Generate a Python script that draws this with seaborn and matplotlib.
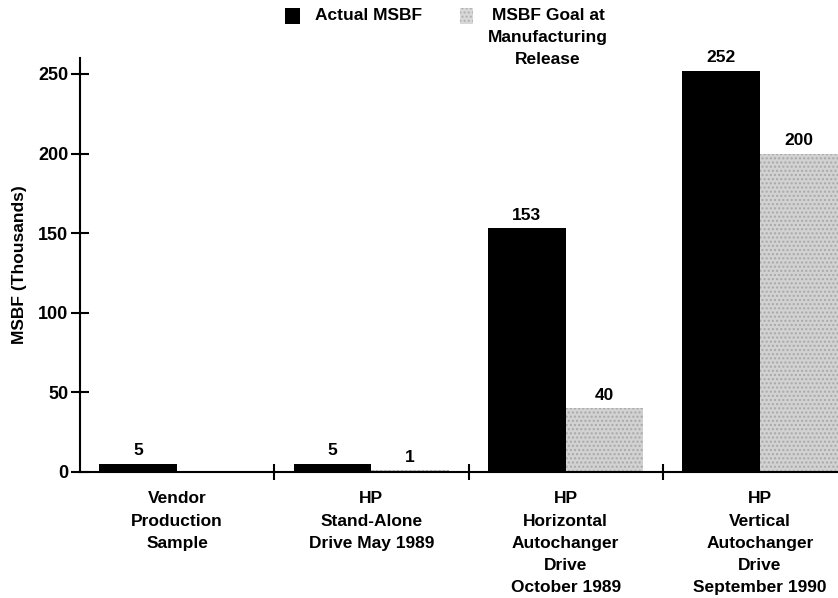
import matplotlib
matplotlib.use("Agg")
import matplotlib.pyplot as plt
from matplotlib.patches import Rectangle
import seaborn as sns
import pandas as pd

categories = ["Vendor\nProduction\nSample",
              "HP\nStand-Alone\nDrive May 1989",
              "HP\nHorizontal\nAutochanger\nDrive\nOctober 1989",
              "HP\nVertical\nAutochanger\nDrive\nSeptember 1990"]
actual_msbf = [5, 5, 153, 252]
goal_msbf = [0, 1, 40, 200]
goal_labels = ["", "1", "40", "200"]
actual_labels = ["5", "5", "153", "252"]
series_names = ["Actual MSBF", "MSBF Goal at\nManufacturing\nRelease"]
y_ticks = [0, 50, 100, 150, 200, 250]

sns.set_style("white")
plt.rcParams['font.family'] = ['Liberation Sans', 'DejaVu Sans']
plt.rcParams['font.weight'] = 'bold'
plt.rcParams['hatch.linewidth'] = 1.0
for k in ['text.color', 'axes.labelcolor', 'xtick.color', 'ytick.color']:
    plt.rcParams[k] = 'black'

df = pd.DataFrame({
    "cat": categories * 2,
    "val": actual_msbf + goal_msbf,
    "series": [series_names[0]] * 4 + [series_names[1]] * 4,
})

fig = plt.figure(figsize=(8.38, 5.98), dpi=100)
ax = fig.add_axes([80/838, 1 - 472/598, 1 - 80/838, (472 - 58)/598])

sns.barplot(data=df, x="cat", y="val", hue="series", order=categories,
            hue_order=series_names, palette=["black", "#d2d2d2"],
            width=0.8, saturation=1, ax=ax, legend=False)

for p in ax.containers[0]:
    p.set_edgecolor("black")
    p.set_linewidth(0)
for p in ax.containers[1]:
    p.set_edgecolor("#a8a8a8")
    p.set_hatch("....")
    p.set_linewidth(0)

ax.bar_label(ax.containers[0], labels=actual_labels, padding=4, fontsize=12.5, fontweight='bold')
ax.bar_label(ax.containers[1], labels=goal_labels, padding=4, fontsize=12.5, fontweight='bold')
for t in ax.texts:
    t.set_clip_on(False)

ax.set_xlim(-0.5, 3.402)
ax.set_ylim(0, 260)
ax.set_yticks(y_ticks)
ax.set_yticklabels([str(v) for v in y_ticks], fontsize=13, fontweight='bold')
ax.set_xticks([0.5, 1.5, 2.5], minor=True)
ax.set_xticks(range(4))
ax.set_xticklabels(categories, fontsize=12.5, fontweight='bold', linespacing=1.6)
ax.tick_params(axis='x', which='major', length=0, pad=14)
ax.tick_params(axis='x', which='minor', length=12, width=1.5, direction='inout', bottom=True)
ax.tick_params(axis='y', which='major', length=13, width=1.5, direction='inout', left=True, pad=2)
ax.set_xlabel("")
ax.set_ylabel("MSBF (Thousands)", fontsize=12.5, fontweight='bold', labelpad=8)

for s in ["top", "right"]:
    ax.spines[s].set_visible(False)
for s in ["left", "bottom"]:
    ax.spines[s].set_color("black")
    ax.spines[s].set_linewidth(1.5)

# legend
fig.patches.append(Rectangle((285/838, 1 - 24/598), 15/838, 16/598, transform=fig.transFigure,
                             facecolor="black", edgecolor="none"))
fig.text(315/838, 1 - 16/598, series_names[0], fontsize=12.5, fontweight='bold',
         va='center', ha='left')
fig.patches.append(Rectangle((460/838, 1 - 24/598), 13/838, 16/598, transform=fig.transFigure,
                             facecolor="#d8d8d8", edgecolor="#b0b0b0", hatch="....", linewidth=0))
fig.text(548/838, 1 - 8/598, series_names[1], fontsize=12.5, fontweight='bold',
         va='top', ha='center', multialignment='center', linespacing=1.6)

fig.savefig("out.png", dpi=100)
